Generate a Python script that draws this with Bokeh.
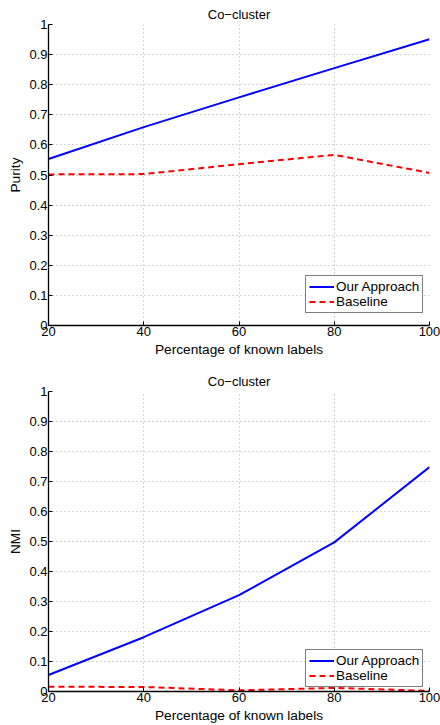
from bokeh.plotting import figure
from bokeh.models import Range1d, FixedTicker, Legend, Title
from bokeh.layouts import column
from bokeh.embed import file_html
from bokeh.resources import INLINE

# ---- data ----
pct = [20, 40, 60, 80, 100]
purity_ours = [0.553, 0.659, 0.758, 0.855, 0.951]
purity_base = [0.502, 0.503, 0.536, 0.567, 0.507]
nmi_ours = [0.055, 0.181, 0.321, 0.497, 0.748]
nmi_base = [0.016, 0.015, 0.004, 0.012, 0.002]
x_ticks = [20, 40, 60, 80, 100]
y_ticks = [0, 0.1, 0.2, 0.3, 0.4, 0.5, 0.6, 0.7, 0.8, 0.9, 1]
y_tick_labels = ["0", "0.1", "0.2", "0.3", "0.4", "0.5", "0.6", "0.7", "0.8", "0.9", "1"]
title_text = "Co\u2212cluster"
x_label = "Percentage of known labels"

FONT = "Liberation Sans"


def make_plot(ylabel, ours, base, frame_h, top_border, bottom_border, legend_loc):
    p = figure(frame_width=381, frame_height=frame_h, output_backend="svg",
               toolbar_location=None,
               x_range=Range1d(20, 100), y_range=Range1d(0, 1),
               min_border_left=48, min_border_right=11,
               min_border_top=top_border, min_border_bottom=bottom_border)
    p.title = Title(text=title_text, align="center", text_font=FONT,
                    text_font_size="13px", text_font_style="normal",
                    text_color="black", standoff=6)
    p.outline_line_color = None
    p.background_fill_color = "white"
    p.border_fill_color = "white"

    for ax in (p.xaxis[0], p.yaxis[0]):
        ax.axis_line_color = "black"
        ax.axis_line_width = 1.3
        ax.major_tick_in = 4
        ax.major_tick_out = 0
        ax.minor_tick_line_color = None
        ax.major_tick_line_color = "black"
        ax.major_label_text_font = FONT
        ax.major_label_text_font_size = "13px"
        ax.major_label_text_color = "black"
        ax.axis_label_text_font = FONT
        ax.axis_label_text_font_size = "13.7px"
        ax.axis_label_text_font_style = "normal"
        ax.axis_label_text_color = "black"
        ax.major_label_standoff = 1

    p.xaxis.ticker = FixedTicker(ticks=x_ticks)
    p.yaxis.ticker = FixedTicker(ticks=y_ticks)
    p.yaxis.major_label_overrides = {t: l for t, l in zip(y_ticks, y_tick_labels)}
    p.xaxis.axis_label = x_label
    p.yaxis.axis_label = ylabel
    p.xaxis.axis_label_standoff = 3
    p.yaxis.axis_label_standoff = 3

    for g in (p.xgrid[0], p.ygrid[0]):
        g.grid_line_color = "#a8a8a8"
        g.grid_line_dash = "1 3"
        g.grid_line_width = 1

    r1 = p.line(pct, ours, line_color="#0000ff", line_width=2)
    r2 = p.line(pct, base, line_color="#ff0000", line_width=2, line_dash="6 4")

    legend = Legend(items=[("Our Approach", [r1]), ("Baseline", [r2])],
                    location=legend_loc, orientation="vertical",
                    border_line_color="black", border_line_width=1.3,
                    background_fill_color="white", background_fill_alpha=1,
                    label_text_font=FONT, label_text_font_size="13.5px",
                    label_text_color="black", glyph_width=25,
                    glyph_height=15, label_height=15,
                    label_standoff=2, spacing=0, padding=3, margin=0)
    p.add_layout(legend, "center")
    return p


p1 = make_plot("Purity", purity_ours, purity_base, 301, 24, 36, (257, 12))
p2 = make_plot("NMI", nmi_ours, nmi_base, 300, 30, 34, (257, 4))

layout = column(p1, p2, spacing=0)
open("out.html", "w").write(file_html(layout, INLINE))
